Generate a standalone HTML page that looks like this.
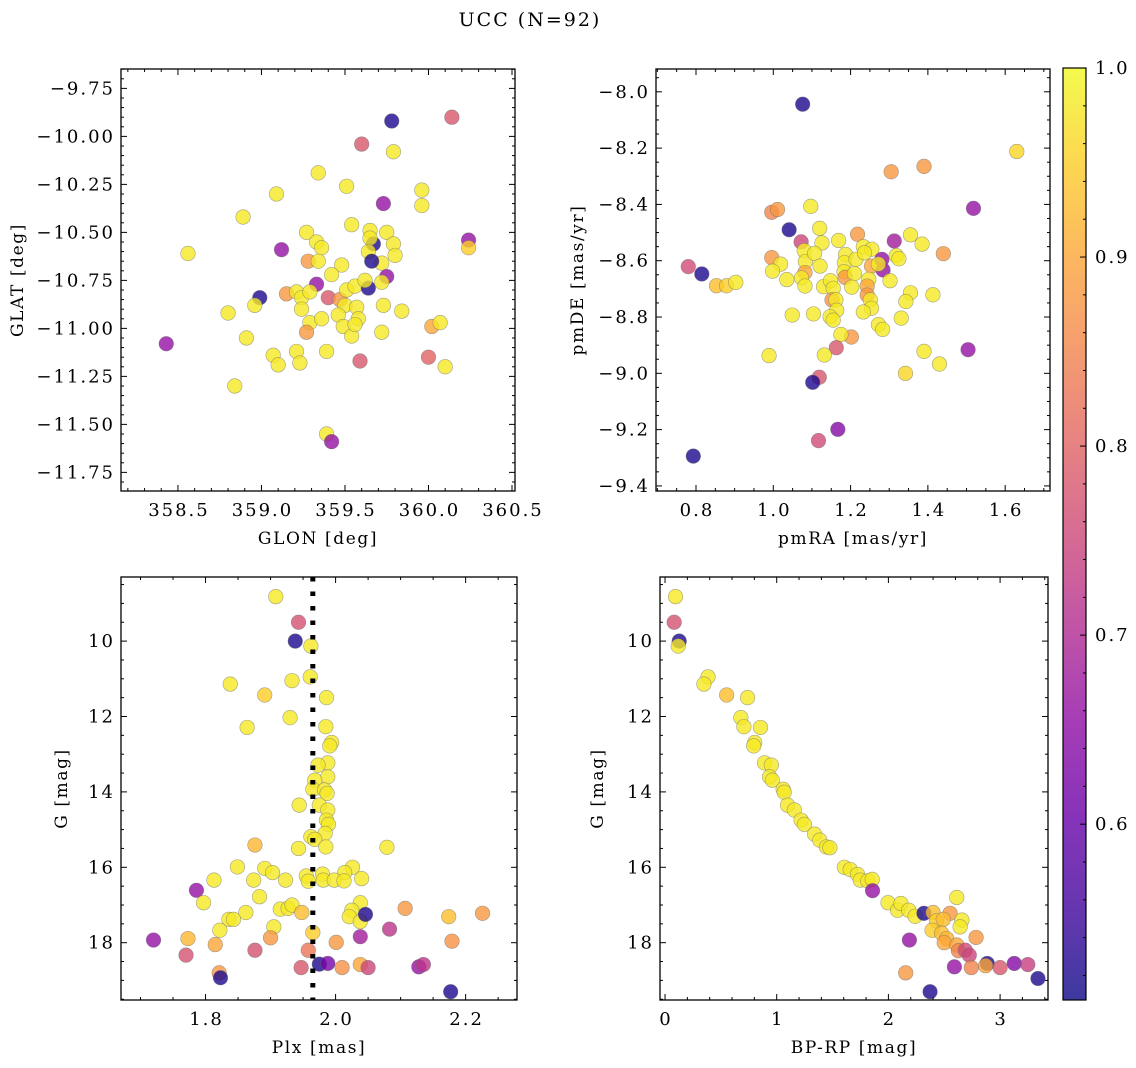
<!DOCTYPE html>
<html><head><meta charset="utf-8">
<style>
html,body{margin:0;padding:0;background:#fff;}
svg{display:block;font-family:"DejaVu Serif","Liberation Serif",serif;}
</style></head>
<body>
<svg id="fig" width="1136" height="1068" viewBox="0 0 1136 1068" xmlns="http://www.w3.org/2000/svg">
<defs>
<linearGradient id="plasmaGrad" x1="0" y1="1" x2="0" y2="0"></linearGradient>
</defs>
<text x="530" y="26" text-anchor="middle" font-size="19" letter-spacing="2">UCC (N=92)</text>
</svg>
<script>
// ---------- data ----------
const glon = [359.78,360.14,359.60,359.79,359.34,359.51,359.09,359.96,359.73,359.96,358.89,359.54,359.27,359.65,360.24,360.24,358.56,359.12,359.33,359.36,359.75,359.67,359.65,359.79,359.80,359.64,359.72,359.48,359.66,359.75,359.28,359.34,359.42,359.33,358.99,359.15,359.21,359.24,359.29,359.40,359.47,359.51,359.56,359.64,359.62,359.72,359.50,359.57,359.84,359.73,359.58,358.96,358.80,359.24,359.29,359.27,359.36,359.46,359.49,359.54,359.56,359.72,360.02,360.07,358.91,358.43,359.07,359.10,359.21,359.23,359.39,359.59,360.00,360.10,358.84,359.39,359.42];
const glat = [-9.92,-9.90,-10.04,-10.08,-10.19,-10.26,-10.30,-10.28,-10.35,-10.36,-10.42,-10.46,-10.50,-10.49,-10.54,-10.58,-10.61,-10.59,-10.55,-10.58,-10.50,-10.56,-10.53,-10.56,-10.62,-10.60,-10.66,-10.67,-10.65,-10.73,-10.65,-10.65,-10.72,-10.77,-10.84,-10.82,-10.81,-10.84,-10.81,-10.84,-10.85,-10.80,-10.78,-10.79,-10.75,-10.76,-10.88,-10.89,-10.91,-10.88,-10.95,-10.88,-10.92,-10.90,-10.97,-11.02,-10.95,-10.93,-10.99,-11.04,-10.98,-11.02,-10.99,-10.97,-11.05,-11.08,-11.14,-11.19,-11.12,-11.18,-11.12,-11.17,-11.15,-11.20,-11.30,-11.55,-11.59];
const prob1 = [0.52,0.78,0.78,0.98,0.98,0.98,0.98,0.98,0.66,0.98,0.98,0.98,0.98,0.98,0.66,0.95,0.98,0.66,0.98,0.98,0.98,0.52,0.98,0.98,0.98,0.98,0.98,0.98,0.52,0.66,0.88,0.98,0.98,0.66,0.52,0.88,0.98,0.98,0.98,0.78,0.88,0.98,0.98,0.52,0.98,0.98,0.98,0.98,0.98,0.98,0.98,0.98,0.98,0.98,0.98,0.88,0.98,0.98,0.98,0.98,0.98,0.98,0.9,0.98,0.98,0.66,0.98,0.98,0.98,0.98,0.98,0.78,0.8,0.98,0.98,0.98,0.66];

const pmra = [1.076,1.630,1.305,1.390,1.518,0.996,1.011,1.097,1.041,1.120,1.072,1.126,1.169,1.218,1.313,1.355,1.385,1.440,0.780,0.815,0.853,0.879,0.903,0.996,1.019,0.998,1.035,1.080,1.083,1.082,1.073,1.082,1.107,1.121,1.130,1.148,1.155,1.152,1.162,1.164,1.147,1.155,1.187,1.184,1.183,1.186,1.210,1.214,1.203,1.233,1.255,1.236,1.254,1.281,1.284,1.272,1.247,1.243,1.243,1.251,1.254,1.233,1.302,1.318,1.325,1.355,1.343,1.331,1.413,1.272,1.283,1.202,1.175,1.049,1.104,1.163,1.132,0.989,1.390,1.430,1.342,1.504,1.119,1.102,1.167,1.117,0.793];
const pmde = [-8.044,-8.212,-8.284,-8.265,-8.414,-8.428,-8.418,-8.407,-8.490,-8.485,-8.533,-8.537,-8.528,-8.506,-8.530,-8.508,-8.541,-8.575,-8.621,-8.647,-8.689,-8.689,-8.677,-8.589,-8.612,-8.637,-8.667,-8.564,-8.603,-8.642,-8.661,-8.690,-8.574,-8.619,-8.692,-8.671,-8.698,-8.739,-8.739,-8.776,-8.799,-8.811,-8.578,-8.607,-8.639,-8.659,-8.646,-8.595,-8.694,-8.550,-8.559,-8.572,-8.619,-8.595,-8.633,-8.612,-8.666,-8.690,-8.722,-8.739,-8.769,-8.782,-8.671,-8.582,-8.593,-8.714,-8.745,-8.804,-8.721,-8.827,-8.844,-8.871,-8.862,-8.793,-8.789,-8.909,-8.935,-8.937,-8.922,-8.967,-9.000,-8.916,-9.014,-9.032,-9.199,-9.239,-9.294];
const prob2 = [0.52,0.96,0.88,0.88,0.66,0.85,0.88,0.98,0.52,0.98,0.75,0.98,0.98,0.88,0.68,0.98,0.98,0.88,0.76,0.52,0.93,0.95,0.98,0.88,0.98,0.98,0.98,0.98,0.98,0.9,0.98,0.98,0.98,0.98,0.98,0.98,0.98,0.88,0.98,0.98,0.98,0.98,0.98,0.98,0.98,0.88,0.98,0.98,0.98,0.98,0.98,0.98,0.9,0.66,0.66,0.98,0.98,0.9,0.88,0.98,0.98,0.98,0.98,0.98,0.98,0.98,0.98,0.98,0.98,0.98,0.98,0.88,0.98,0.98,0.98,0.78,0.98,0.98,0.98,0.98,0.96,0.66,0.78,0.52,0.64,0.76,0.52];

const plx = [1.908,1.943,1.938,1.962,1.961,1.933,1.838,1.891,1.986,1.930,1.864,1.985,1.994,1.991,1.988,1.973,1.988,1.968,1.965,1.983,1.987,1.944,1.975,1.988,1.986,1.989,1.984,1.962,1.968,1.985,1.943,1.876,2.079,1.849,1.891,1.903,2.026,2.014,1.813,1.874,1.923,1.955,1.958,1.980,1.981,1.998,2.013,2.040,1.786,1.797,1.883,1.862,1.915,1.927,1.933,1.948,2.038,2.025,2.021,2.038,2.046,2.107,2.174,2.226,1.836,1.843,1.822,1.905,1.965,1.773,1.815,1.900,2.001,2.038,2.083,2.179,1.720,1.770,1.876,1.958,1.821,1.823,1.947,1.975,1.988,2.010,2.038,2.050,2.128,2.135,2.177];
const gmag3 = [8.82,9.50,10.00,10.13,10.95,11.05,11.14,11.43,11.50,12.03,12.29,12.27,12.69,12.78,13.23,13.29,13.60,13.69,13.93,13.95,14.04,14.35,14.35,14.48,14.75,14.86,15.10,15.19,15.26,15.46,15.50,15.41,15.47,15.99,16.03,16.14,16.00,16.14,16.34,16.34,16.34,16.23,16.37,16.18,16.34,16.34,16.36,16.30,16.61,16.94,16.78,17.20,17.11,17.09,17.00,17.20,16.94,17.14,17.31,17.44,17.25,17.09,17.31,17.22,17.38,17.38,17.67,17.58,17.73,17.89,18.05,17.87,17.99,17.84,17.64,17.96,17.93,18.33,18.20,18.20,18.80,18.93,18.66,18.57,18.55,18.66,18.58,18.66,18.64,18.58,19.30];
const prob3 = [0.98,0.77,0.52,0.98,0.98,0.98,0.98,0.95,0.98,0.98,0.98,0.98,0.98,0.98,0.98,0.98,0.98,0.98,0.98,0.98,0.98,0.98,0.98,0.98,0.98,0.98,0.98,0.98,0.98,0.98,0.98,0.92,0.98,0.98,0.98,0.98,0.98,0.98,0.98,0.98,0.98,0.98,0.98,0.98,0.98,0.98,0.98,0.98,0.66,0.98,0.98,0.98,0.98,0.98,0.98,0.93,0.98,0.98,0.98,0.98,0.52,0.88,0.93,0.88,0.98,0.98,0.98,0.98,0.95,0.92,0.9,0.88,0.88,0.68,0.72,0.87,0.66,0.77,0.77,0.83,0.88,0.52,0.78,0.52,0.62,0.87,0.9,0.75,0.66,0.72,0.52];

const bprp = [0.094,0.082,0.127,0.118,0.385,0.348,0.552,0.739,0.679,0.706,0.855,0.803,0.794,0.891,0.952,0.936,0.961,1.058,1.067,1.097,1.158,1.218,1.248,1.339,1.385,1.445,1.476,1.606,1.658,1.724,1.748,1.815,1.855,1.858,1.997,2.082,2.112,2.182,2.239,2.318,2.400,2.552,2.612,2.430,2.491,2.658,2.642,2.391,2.476,2.521,2.500,2.612,2.627,2.785,2.688,2.724,2.188,2.155,2.591,2.742,2.885,2.870,3.000,3.127,3.248,3.339,2.373];
const gmag4 = [8.82,9.50,10.00,10.13,10.95,11.14,11.43,11.50,12.03,12.27,12.29,12.69,12.78,13.23,13.29,13.60,13.69,13.93,14.01,14.35,14.48,14.75,14.86,15.12,15.28,15.46,15.48,16.00,16.06,16.19,16.34,16.36,16.32,16.62,16.94,17.14,16.96,17.14,17.30,17.22,17.20,17.22,16.80,17.42,17.38,17.40,17.58,17.67,17.75,17.89,18.00,18.06,18.21,17.86,18.20,18.33,17.93,18.80,18.64,18.66,18.55,18.61,18.66,18.55,18.58,18.95,19.30];
const prob4 = [0.98,0.77,0.52,0.98,0.98,0.98,0.93,0.98,0.98,0.98,0.98,0.98,0.98,0.98,0.98,0.98,0.98,0.98,0.98,0.98,0.98,0.98,0.98,0.98,0.98,0.98,0.98,0.98,0.98,0.98,0.98,0.98,0.98,0.66,0.98,0.98,0.98,0.98,0.98,0.52,0.93,0.88,0.98,0.95,0.93,0.98,0.98,0.95,0.93,0.92,0.9,0.9,0.85,0.88,0.76,0.75,0.66,0.88,0.66,0.85,0.52,0.9,0.78,0.64,0.74,0.52,0.52];

const cbTicks = [0.6,0.7,0.8,0.9,1.0];

// ---------- helpers ----------
const NS = "http://www.w3.org/2000/svg";
const svg = document.getElementById('fig');
function mk(tag, attrs, parent){
  const e = document.createElementNS(NS, tag);
  for (const k in attrs) e.setAttribute(k, attrs[k]);
  (parent||svg).appendChild(e);
  return e;
}
const VMIN = 0.507, VMAX = 1.0;
const plasma = [[13,8,135],[65,4,157],[106,0,168],[143,13,164],[177,42,144],[204,71,120],[225,100,98],[242,132,75],[252,166,54],[252,206,37],[240,249,33]];
function cmap(p){
  let t = (p - VMIN) / (VMAX - VMIN); t = Math.max(0, Math.min(1, t));
  const f = t * 10, i = Math.min(9, Math.floor(f)), r = f - i;
  const a = plasma[i], b = plasma[i+1];
  return `rgb(${Math.round(a[0]+(b[0]-a[0])*r)},${Math.round(a[1]+(b[1]-a[1])*r)},${Math.round(a[2]+(b[2]-a[2])*r)})`;
}
function fmt(v, d){ const s = v.toFixed(d); return v < 0 ? '\u2212' + s.slice(1) : s; }
const TFS = 18, TLS = 2;

function panel(cfg){
  const g = mk('g', {});
  
  
  const {x0,x1,y0,y1,xd,yd} = cfg;
  const sx = v => x0 + (v - xd[0]) / (xd[1] - xd[0]) * (x1 - x0);
  const sy = v => y1 - (v - yd[0]) / (yd[1] - yd[0]) * (y1 - y0);
  const pts = mk('g', {}, g);
  
  
  for (let i = 0; i < cfg.xs.length; i++){
    const c = mk('circle', {cx: sx(cfg.xs[i]), cy: sy(cfg.ys[i]), r: 7.3, fill: cmap(cfg.ps[i]), 'fill-opacity': 0.8, stroke: '#6a6a6a', 'stroke-opacity': 0.6, 'stroke-width': 0.6}, pts);
    
    
  }
  if (cfg.vline !== undefined){
    const l = mk('line', {x1: sx(cfg.vline), x2: sx(cfg.vline), y1: y0, y2: y1, stroke: '#000', 'stroke-width': 5, 'stroke-dasharray': '4.5 10'}, g);
    
    
  }
  const fr = mk('rect', {x: x0, y: y0, width: x1 - x0, height: y1 - y0, fill: 'none', stroke: '#000', 'stroke-width': 1.3}, g);
  
  
  const tk = mk('g', {stroke: '#000', 'stroke-width': 1}, g);
  
  
  const lo = Math.min(xd[0], xd[1]), hi = Math.max(xd[0], xd[1]);
  for (let k = Math.ceil(lo / cfg.xminor - 1e-6); k * cfg.xminor <= hi + 1e-9; k++){
    const v = k * cfg.xminor, X = sx(v);
    const major = Math.abs(v / cfg.xmajor - Math.round(v / cfg.xmajor)) < 1e-6;
    const L = major ? 6 : 3;
    mk('line', {x1: X, x2: X, y1: y1, y2: y1 - L}, tk);
    mk('line', {x1: X, x2: X, y1: y0, y2: y0 + L}, tk);
  }
  cfg.xlabels.forEach(v => {
    const t = mk('text', {x: sx(v) + TLS/2, y: y1 + 25, 'text-anchor': 'middle', 'font-size': TFS, 'letter-spacing': TLS}, g);
    t.textContent = fmt(v, cfg.xdec);
    
    
  });
  const ylo = Math.min(yd[0], yd[1]), yhi = Math.max(yd[0], yd[1]);
  for (let k = Math.ceil(ylo / cfg.yminor - 1e-6); k * cfg.yminor <= yhi + 1e-9; k++){
    const v = k * cfg.yminor, Y = sy(v);
    const major = Math.abs(v / cfg.ymajor - Math.round(v / cfg.ymajor)) < 1e-6;
    const L = major ? 6 : 3;
    mk('line', {x1: x0, x2: x0 + L, y1: Y, y2: Y}, tk);
    mk('line', {x1: x1, x2: x1 - L, y1: Y, y2: Y}, tk);
  }
  cfg.ylabels.forEach(v => {
    const t = mk('text', {x: x0 - 8 + TLS, y: sy(v) + 6, 'text-anchor': 'end', 'font-size': TFS, 'letter-spacing': TLS}, g);
    t.textContent = fmt(v, cfg.ydec);
    
    
  });
  const xt = mk('text', {x: (x0 + x1) / 2, y: y1 + 53, 'text-anchor': 'middle', 'font-size': 17, 'letter-spacing': 1.6}, g);
  xt.textContent = cfg.xtitle;
  
  
  const yx = cfg.ytx, yc = (y0 + y1) / 2;
  const yt = mk('text', {x: yx, y: yc, 'text-anchor': 'middle', 'font-size': 17, 'letter-spacing': 1.6, transform: `rotate(-90 ${yx} ${yc})`}, g);
  yt.textContent = cfg.ytitle;
  
  
}

panel({name:'glon-glat-panel', x0:121, x1:515, y0:69, y1:491, xd:[358.159,360.518], yd:[-11.847,-9.649],
  xs:glon, ys:glat, ps:prob1, xmajor:0.5, xminor:0.1, ymajor:0.25, yminor:0.05,
  xlabels:[358.5,359.0,359.5,360.0,360.5], xdec:1, ylabels:[-9.75,-10.0,-10.25,-10.5,-10.75,-11.0,-11.25,-11.5,-11.75], ydec:2,
  xtitle:'GLON [deg]', ytitle:'GLAT [deg]', ytx:23});
panel({name:'pm-panel', x0:656, x1:1050, y0:69, y1:491, xd:[0.6965,1.716], yd:[-9.418,-7.919],
  xs:pmra, ys:pmde, ps:prob2, xmajor:0.2, xminor:0.05, ymajor:0.2, yminor:0.05,
  xlabels:[0.8,1.0,1.2,1.4,1.6], xdec:1, ylabels:[-8.0,-8.2,-8.4,-8.6,-8.8,-9.0,-9.2,-9.4], ydec:1,
  xtitle:'pmRA [mas/yr]', ytitle:'pmDE [mas/yr]', ytx:583});
panel({name:'plx-g-panel', x0:121, x1:517, y0:577, y1:1000, xd:[1.670,2.279], yd:[19.52,8.30],
  xs:plx, ys:gmag3, ps:prob3, xmajor:0.2, xminor:0.05, ymajor:2, yminor:0.5,
  xlabels:[1.8,2.0,2.2], xdec:1, ylabels:[10,12,14,16,18], ydec:0,
  xtitle:'Plx [mas]', ytitle:'G [mag]', ytx:67, vline:1.965});
panel({name:'cmd-panel', x0:660, x1:1048, y0:577, y1:1000, xd:[-0.045,3.429], yd:[19.52,8.30],
  xs:bprp, ys:gmag4, ps:prob4, xmajor:1, xminor:0.2, ymajor:2, yminor:0.5,
  xlabels:[0,1,2,3], xdec:0, ylabels:[10,12,14,16,18], ydec:0,
  xtitle:'BP-RP [mag]', ytitle:'G [mag]', ytx:603});

// ---------- colorbar ----------
const grad = document.getElementById('plasmaGrad');
plasma.forEach((c, i) => mk('stop', {offset: (i / 10), 'stop-color': `rgb(${c[0]},${c[1]},${c[2]})`, 'stop-opacity': 0.8}, grad));
const cbx0 = 1063, cbx1 = 1086, cby0 = 68, cby1 = 1000;
const cby = v => cby1 - (v - VMIN) / (VMAX - VMIN) * (cby1 - cby0);
const cb = mk('g', {});


mk('rect', {x: cbx0, y: cby0, width: cbx1 - cbx0, height: cby1 - cby0, fill: 'url(#plasmaGrad)', stroke: '#000', 'stroke-width': 1.2}, cb);
for (let k = 26; k <= 50; k++){
  const v = k * 0.02, Y = cby(v);
  if (Y < cby0 - 0.5 || Y > cby1) continue;
  const major = k % 5 === 0;
  mk('line', {x1: cbx1, x2: cbx1 - (major ? 6 : 3), y1: Y, y2: Y, stroke: '#000', 'stroke-width': 1}, cb);
}
cbTicks.forEach(v => {
  const t = mk('text', {x: cbx1 + 9, y: cby(v) + 6, 'font-size': TFS, 'letter-spacing': TLS}, cb);
  t.textContent = v.toFixed(1);
  
  
});
</script>
</body></html>
